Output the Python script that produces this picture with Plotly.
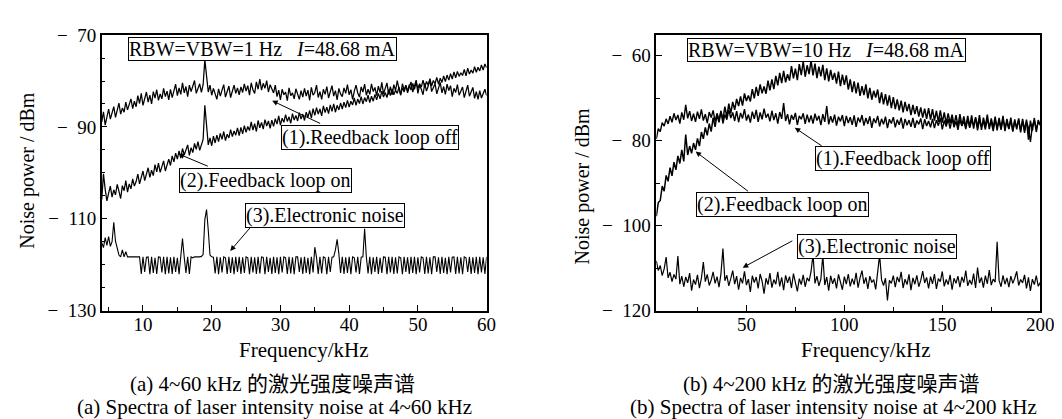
import numpy as np
import plotly.graph_objects as go

# ---------------- data: panel (a) 4~60 kHz (0.25 kHz grid) ----------------
freq_a = np.arange(4.0, 60.001, 0.25)

off_a = [
    -88.9, -86.7, -89.6, -87.4, -86.1, -88.3, -87.0, -85.6, -87.9, -86.4, -84.8, -87.2, -85.9, -86.8, -84.6, -86.3, -85.1, -83.9, -86.0, -84.4,
    -85.6, -83.2, -84.9, -82.7, -85.3, -83.8, -82.4, -84.6, -83.1, -85.0, -82.3, -83.7, -81.9, -84.2, -82.8, -83.9, -81.6, -83.4, -82.2, -84.1,
    -81.8, -83.6, -82.1, -80.7, -83.2, -81.5, -82.9, -80.4, -82.6, -81.2, -83.4, -80.9, -82.3, -81.0, -79.9, -82.7, -81.4, -80.6, -82.5, -80.8,
    -75.4, -78.6, -82.4, -80.9, -83.1, -81.6, -82.8, -84.0, -81.7, -83.3, -82.0, -80.8, -83.5, -82.2, -81.1, -83.6, -82.4, -80.9, -82.7, -81.5,
    -83.0, -81.3, -82.5, -80.6, -82.2, -81.0, -83.1, -80.4, -81.9, -82.7, -80.2, -81.8, -79.6, -82.0, -80.5, -81.6, -79.9, -82.4, -80.8, -81.7,
    -82.6, -80.9, -83.4, -82.0, -84.1, -81.8, -83.0, -82.4, -84.3, -81.5, -83.2, -82.6, -83.9, -81.7, -82.8, -84.0, -82.1, -83.5, -81.6, -83.3,
    -82.0, -84.2, -81.4, -83.1, -82.5, -80.9, -83.6, -82.3, -84.0, -81.8, -82.9, -81.2, -83.7, -82.4, -81.0, -83.3, -82.1, -84.1, -81.6, -82.8,
    -83.4, -81.5, -82.7, -80.8, -83.0, -81.9, -84.0, -82.2, -80.9, -82.6, -83.5, -81.3, -82.4, -80.7, -83.1, -81.8, -82.9, -80.6, -82.3, -81.4,
    -83.2, -81.1, -82.5, -80.3, -82.8, -81.6, -80.4, -82.9, -81.2, -83.0, -80.8, -82.1, -79.9, -81.7, -83.1, -80.6, -82.0, -80.9, -82.6, -81.3,
    -80.2, -82.4, -81.0, -79.8, -82.7, -80.9, -81.8, -83.0, -80.5, -82.2, -81.1, -79.7, -82.3, -81.4, -80.6, -82.8, -81.5, -80.3, -82.6, -81.2,
    -82.9, -80.7, -82.1, -81.0, -83.4, -81.6, -82.5, -80.8, -83.1, -82.0, -81.3, -83.6, -82.2, -80.9, -83.3, -82.5, -81.4, -83.8, -82.3, -84.0,
    -82.1, -83.7, -82.6, -81.8, -83.2,
]

on_a = [
    -105.8, -100.2, -103.6, -106.1, -104.4, -102.9, -105.3, -103.7, -104.8, -102.5, -104.0, -105.6, -102.8, -103.9, -101.7, -104.2, -102.4, -103.5, -101.3, -102.9,
    -101.9, -100.3, -102.4, -100.8, -99.6, -101.7, -100.1, -98.9, -101.0, -99.4, -100.6, -98.2, -99.8, -97.9, -99.9, -98.5, -97.4, -99.6, -98.1, -97.0,
    -98.4, -96.3, -97.6, -95.7, -97.0, -95.2, -96.8, -94.7, -96.1, -95.0, -93.9, -96.2, -94.5, -95.6, -93.6, -94.9, -93.2, -95.1, -93.8, -92.7,
    -85.3, -89.2, -93.9, -92.4, -94.1, -92.0, -93.5, -91.8, -93.2, -91.4, -92.7, -91.0, -93.0, -91.6, -92.4, -90.6, -92.1, -90.9, -91.8, -90.2,
    -91.9, -90.1, -91.5, -89.7, -91.2, -89.9, -90.8, -88.9, -90.7, -89.3, -91.0, -88.6, -90.2, -89.0, -90.5, -88.4, -89.8, -88.7, -90.3, -88.5,
    -89.9, -88.2, -89.4, -87.6, -89.6, -88.1, -89.0, -87.3, -88.8, -87.8, -89.2, -87.1, -88.5, -87.5, -88.7, -86.9, -88.3, -87.2, -88.6, -86.8,
    -87.9, -86.4, -88.1, -86.0, -87.5, -85.8, -87.2, -86.1, -87.6, -85.4, -86.9, -85.7, -87.1, -85.2, -86.6, -85.0, -86.8, -85.3, -86.3, -84.8,
    -86.1, -84.6, -85.8, -84.2, -85.7, -84.4, -85.2, -83.7, -85.3, -83.9, -84.9, -83.4, -85.0, -83.6, -84.5, -83.1, -84.7, -83.3, -84.4, -82.9,
    -84.1, -82.7, -83.9, -82.2, -83.5, -82.5, -83.6, -81.9, -83.2, -81.7, -83.0, -82.0, -82.7, -81.3, -82.9, -81.5, -82.4, -81.0, -82.2, -80.8,
    -82.0, -80.5, -81.8, -80.2, -81.6, -80.6, -81.3, -79.8, -81.4, -80.1, -80.9, -79.5, -81.1, -79.9, -80.6, -79.2, -80.7, -79.4, -80.3, -78.9,
    -80.1, -78.7, -79.8, -78.4, -79.6, -78.0, -79.3, -77.9, -79.0, -78.2, -78.8, -77.5, -78.9, -77.2, -78.5, -77.6, -78.3, -76.9, -78.1, -77.0,
    -77.8, -76.5, -77.6, -76.3, -77.1,
]

elec_a = [
    -115.2, -116.3, -114.1, -115.8, -113.9, -116.0, -115.0, -110.8, -114.9, -116.2, -117.9, -118.3, -116.8, -118.3, -117.2, -118.3, -118.3, -118.4, -118.3, -118.3,
    -118.3, -118.4, -118.3, -122.0, -118.3, -121.6, -118.4, -118.3, -122.1, -118.3, -121.8, -118.5, -122.0, -118.3, -118.4, -121.7, -118.3, -122.1, -118.3, -121.9,
    -118.4, -122.0, -118.3, -121.6, -118.5, -122.1, -118.3, -114.3, -118.4, -121.8, -118.3, -122.0, -118.3, -118.5, -118.3, -118.3, -118.4, -118.3, -118.2, -117.8,
    -110.2, -108.0, -112.5, -117.9, -118.3, -118.4, -121.9, -118.3, -122.1, -118.4, -121.7, -118.3, -118.5, -122.0, -118.3, -121.8, -118.4, -122.1, -118.3, -121.6,
    -118.3, -122.0, -118.4, -121.8, -118.3, -118.5, -122.1, -118.3, -121.7, -118.4, -122.0, -118.3, -121.9, -118.3, -118.4, -122.1, -118.3, -121.6, -118.5, -122.0,
    -118.3, -121.8, -118.4, -122.1, -118.3, -121.7, -118.3, -118.5, -122.0, -118.3, -121.9, -118.4, -122.1, -118.3, -118.3, -121.6, -118.4, -122.0, -118.3, -121.8,
    -118.5, -122.1, -118.3, -121.7, -116.2, -118.4, -122.0, -118.3, -121.9, -118.3, -118.5, -122.1, -118.3, -121.6, -118.4, -118.3, -116.8, -114.5, -117.6, -121.8,
    -118.3, -122.0, -118.4, -121.8, -118.3, -122.1, -118.3, -118.5, -121.7, -118.3, -122.0, -118.4, -118.3, -112.2, -118.3, -121.9, -118.3, -122.1, -118.4, -121.6,
    -118.3, -122.0, -118.5, -121.8, -118.3, -118.4, -122.1, -118.3, -121.7, -118.3, -122.0, -118.4, -121.9, -118.3, -118.5, -122.1, -118.3, -121.6, -118.4, -122.0,
    -118.3, -121.8, -118.3, -122.1, -118.4, -121.7, -118.3, -118.5, -122.0, -118.3, -121.9, -118.4, -122.1, -118.3, -118.3, -121.6, -118.4, -122.0, -118.3, -121.8,
    -118.5, -122.1, -118.3, -121.7, -118.4, -118.3, -122.0, -118.3, -121.9, -118.4, -122.1, -118.3, -118.5, -121.6, -118.3, -122.0, -118.4, -121.8, -118.3, -122.1,
    -118.3, -121.7, -118.4, -122.0, -118.3,
]

# ---------------- data: panel (b) 4~200 kHz (1 kHz grid) ----------------
freq_b = np.arange(4.0, 200.001, 1.0)

off_b = [
    -79.6, -77.2, -77.9, -75.8, -76.6, -74.9, -76.1, -74.3, -75.7, -73.6, -75.2, -74.0, -76.0, -73.4, -75.1, -71.6, -74.8, -73.1, -75.4, -73.7,
    -75.6, -73.2, -74.9, -72.7, -75.3, -73.8, -75.9, -73.3, -74.6, -72.9, -75.5, -73.6, -75.2, -73.0, -76.0, -73.9, -75.1, -72.8, -74.7, -73.4,
    -75.4, -73.1, -75.7, -73.5, -74.8, -72.6, -75.3, -73.9, -75.8, -73.2, -74.9, -72.8, -75.6, -73.4, -75.0, -72.5, -74.6, -73.7, -75.5, -73.0,
    -75.2, -73.6, -76.0, -73.3, -74.9, -71.2, -75.4, -73.8, -76.2, -74.0, -75.1, -73.5, -76.3, -74.2, -75.0, -73.6, -76.1, -73.9, -75.7, -74.1,
    -76.0, -73.7, -75.3, -74.2, -76.4, -73.8, -75.6, -71.9, -76.2, -74.3, -75.8, -73.9, -76.5, -74.4, -75.5, -74.0, -76.6, -74.2, -75.9, -74.5,
    -76.3, -74.1, -76.8, -74.6, -75.7, -74.0, -76.5, -74.7, -76.1, -74.3, -77.0, -74.8, -75.9, -74.2, -76.7, -74.9, -76.2, -74.4, -77.1, -75.0,
    -76.0, -74.5, -76.9, -75.1, -76.3, -74.6, -77.2, -74.9, -76.4, -75.2, -76.8, -74.7, -77.0, -75.3, -76.2, -74.8, -77.3, -75.0, -76.6, -75.4,
    -76.9, -74.9, -77.1, -75.2, -76.5, -74.7, -77.4, -75.3, -76.7, -75.0, -77.2, -74.8, -76.9, -75.5, -77.5, -75.1, -76.6, -75.4, -77.3, -74.9,
    -77.0, -75.3, -76.4, -74.8, -77.6, -75.2, -76.8, -75.5, -77.4, -74.9, -76.7, -75.6, -77.8, -75.1, -76.9, -75.4, -77.5, -75.0, -76.8, -75.7,
    -77.3, -75.2, -77.7, -75.5, -76.9, -75.1, -77.6, -75.4, -78.2, -75.6, -77.0, -80.3, -76.5, -75.3, -77.4, -75.6, -76.2,
]

on_b = [
    -97.8, -94.6, -94.1, -90.7, -91.9, -88.2, -89.6, -86.4, -88.3, -85.1, -86.9, -83.6, -85.4, -82.2, -84.9, -78.6, -83.4, -81.3, -83.0, -80.6,
    -82.2, -79.5, -81.3, -78.0, -79.6, -76.9, -78.8, -76.0, -77.9, -74.6, -76.8, -73.9, -75.7, -73.2, -75.1, -72.0, -74.5, -71.3, -73.6, -70.9,
    -72.8, -70.2, -71.9, -69.6, -71.8, -68.9, -70.7, -69.4, -70.8, -67.9, -70.1, -67.4, -69.5, -66.8, -68.9, -67.3, -69.0, -65.9, -68.2, -65.6,
    -67.9, -64.8, -67.0, -64.1, -66.5, -63.6, -66.3, -64.4, -65.9, -62.5, -65.4, -63.1, -65.8, -62.0, -64.6, -61.4, -65.0, -62.3, -64.4, -61.1,
    -64.7, -61.9, -65.3, -62.6, -64.9, -62.2, -65.8, -63.0, -66.1, -63.4, -65.7, -64.1, -66.6, -63.8, -67.2, -64.5, -66.9, -64.7, -68.0, -65.6,
    -68.6, -66.1, -68.9, -66.4, -69.5, -67.2, -69.3, -66.8, -70.1, -67.6, -70.4, -68.3, -69.9, -68.0, -71.2, -68.7, -71.5, -69.1, -71.8, -69.4,
    -72.4, -69.8, -72.6, -70.3, -72.9, -70.6, -73.4, -70.9, -73.1, -71.4, -74.0, -71.6, -73.8, -71.9, -74.4, -72.2, -74.6, -72.5, -74.9, -72.4,
    -75.1, -72.6, -75.3, -73.0, -75.6, -72.9, -75.8, -73.4, -76.0, -73.6, -75.9, -73.9, -76.4, -74.0, -76.6, -73.8, -76.5, -74.3, -76.9, -74.2,
    -76.8, -74.1, -77.2, -74.5, -76.9, -74.0, -77.5, -74.6, -76.7, -73.9, -77.3, -74.8, -77.0, -74.4, -77.6, -74.7, -77.1, -74.2, -77.8, -74.9,
    -77.2, -74.6, -77.9, -75.0, -77.4, -74.8, -78.1, -74.9, -77.6, -75.1, -79.8, -75.3, -77.7, -74.7, -78.0, -75.2, -76.4,
]

elec_b = [
    -108.3, -110.6, -109.4, -111.8, -110.2, -107.4, -112.3, -111.0, -113.2, -111.5, -112.6, -107.2, -113.8, -111.9, -114.4, -112.1, -113.5, -111.2, -115.3, -112.7,
    -113.9, -111.6, -114.7, -112.4, -108.6, -113.2, -111.5, -114.1, -112.8, -110.9, -113.6, -112.0, -114.5, -111.3, -105.4, -113.0, -111.7, -114.2, -112.5, -110.6,
    -113.8, -111.9, -115.1, -112.3, -113.6, -110.8, -114.0, -112.6, -115.6, -111.8, -113.4, -112.1, -114.8, -111.4, -113.1, -116.0, -112.4, -113.9, -111.2, -114.6,
    -112.7, -113.8, -110.9, -114.3, -112.2, -115.2, -111.7, -113.5, -112.0, -114.7, -111.3, -113.2, -115.5, -112.5, -113.9, -111.6, -114.4, -112.3, -113.1, -110.8,
    -106.8, -113.6, -111.9, -114.2, -112.6, -107.0, -114.0, -112.1, -115.3, -111.8, -113.7, -112.4, -114.8, -111.5, -113.3, -115.1, -112.0, -113.8, -111.4, -114.3,
    -112.5, -113.9, -111.1, -114.6, -112.3, -110.6, -113.7, -112.2, -114.9, -111.9, -113.4, -112.7, -115.0, -111.6, -106.9, -112.8, -114.1, -112.4, -117.6, -112.9,
    -113.6, -111.8, -114.5, -112.1, -113.3, -110.9, -114.7, -112.6, -113.9, -111.5, -115.2, -112.3, -113.8, -111.7, -114.4, -112.9, -110.7, -113.5, -112.2, -114.8,
    -112.0, -113.7, -111.4, -114.9, -112.5, -113.2, -110.8, -114.3, -112.7, -113.9, -111.6, -115.1, -112.4, -113.6, -111.9, -114.5, -112.1, -113.4, -110.6, -114.2,
    -112.8, -113.9, -111.3, -114.7, -109.9, -113.5, -112.2, -114.6, -111.8, -113.7, -110.5, -114.0, -112.6, -113.3, -103.8, -112.9, -114.4, -111.7, -113.8, -112.3,
    -114.5, -111.9, -113.6, -112.4, -110.8, -114.1, -112.7, -113.5, -111.6, -114.8, -112.2, -115.4, -112.6, -113.9, -111.8, -114.3, -113.4,
]

# ---------------- ticks / texts ----------------
xticks_a = [10, 20, 30, 40, 50, 60]
yticks_a = [-130, -110, -90, -70]
yticktext_a = ["\u2212\u2002130", "\u2212\u2002110", "\u2212\u200290", "\u2212\u200270"]
xticks_b = [50, 100, 150, 200]
yticks_b = [-120, -100, -80, -60]
yticktext_b = ["\u2212\u2002120", "\u2212\u2002100", "\u2212\u200280", "\u2212\u200260"]

SERIF = "Liberation Serif, Times New Roman, serif"
MIXED = "Liberation Serif, Noto Sans CJK SC, serif"

fig = go.Figure()


def add_series(x, y, xa, ya, width):
    fig.add_trace(go.Scatter(x=x[:len(y)], y=y, mode="lines",
                             line=dict(color="black", width=width),
                             xaxis=xa, yaxis=ya, showlegend=False, hoverinfo="skip"))


add_series(freq_a, off_a, "x", "y", 1.25)
add_series(freq_a, on_a, "x", "y", 1.25)
add_series(freq_a, elec_a, "x", "y", 1.1)
add_series(freq_b, off_b, "x2", "y2", 1.4)
add_series(freq_b, on_b, "x2", "y2", 1.5)
add_series(freq_b, elec_b, "x2", "y2", 1.2)

W, H = 1062, 419
ydom = [1 - 308 / H, 1 - 18 / H]

axis_common = dict(showline=True, linecolor="black", linewidth=1.5, mirror=True,
                   ticks="inside", ticklen=6, tickwidth=1.2, tickcolor="black",
                   showgrid=False, zeroline=False,
                   tickfont=dict(family=SERIF, size=19, color="black"))

fig.update_layout(
    width=W, height=H, margin=dict(l=0, r=0, t=0, b=0),
    paper_bgcolor="white", plot_bgcolor="white",
    xaxis=dict(domain=[95 / W, 485 / W], range=[4, 60], anchor="y",
               tickvals=xticks_a, ticklabelstandoff=-4,
               minor=dict(dtick=5, tick0=0, ticks="inside", ticklen=4, tickcolor="black"),
               **axis_common),
    yaxis=dict(domain=ydom, range=[-130, -70], anchor="x",
               tickvals=yticks_a, ticktext=yticktext_a,
               minor=dict(dtick=5, tick0=0, ticks="inside", ticklen=4, tickcolor="black"),
               **axis_common),
    xaxis2=dict(domain=[657 / W, 1046 / W], range=[4, 200], anchor="y2",
                tickvals=xticks_b, ticklabelstandoff=-4,
                minor=dict(dtick=25, tick0=0, ticks="inside", ticklen=4, tickcolor="black"),
                **axis_common),
    yaxis2=dict(domain=ydom, range=[-120, -55.2], anchor="x2",
                tickvals=yticks_b, ticktext=yticktext_b,
                minor=dict(dtick=10, tick0=0, ticks="inside", ticklen=4, tickcolor="black"),
                **axis_common),
)

box_font = dict(family=SERIF, size=20, color="black")
sp = "\u00a0\u00a0\u00a0"


def box(text, x, y, xr, yr):
    fig.add_annotation(text=text, x=x, y=y, xref=xr, yref=yr, showarrow=False,
                       font=box_font, bordercolor="black", borderwidth=1,
                       borderpad=0, bgcolor="white", xanchor="center", yanchor="middle")


def arrow(x, y, ax, ay, xr, yr):
    fig.add_annotation(text="", x=x, y=y, ax=ax, ay=ay, xref=xr, yref=yr,
                       axref=xr, ayref=yr, showarrow=True, arrowhead=2,
                       arrowsize=1.1, arrowwidth=1, arrowcolor="black")


# panel (a) annotations
box("RBW=VBW=1 Hz" + sp + "<i>I</i>=48.68 mA", 27.4, -73.0, "x", "y")
box("(1).Reedback loop off", 43.1, -92.2, "x", "y")
box("(2).Feedback loop on", 27.8, -101.6, "x", "y")
box("(3).Electronic noise", 36.5, -109.4, "x", "y")
arrow(28.8, -84.3, 36.0, -89.4, "x", "y")
arrow(15.2, -95.9, 19.65, -98.7, "x", "y")
arrow(22.7, -117.0, 25.8, -111.6, "x", "y")

# panel (b) annotations
box("RBW=VBW=10 Hz" + sp + "<i>I</i>=48.68 mA", 91.0, -58.6, "x2", "y2")
box("(1).Feedback loop off", 130.1, -84.25, "x2", "y2")
box("(2).Feedback loop on", 68.4, -95.1, "x2", "y2")
box("(3).Electronic noise", 116.5, -105.0, "x2", "y2")
arrow(74.7, -77.0, 89.2, -81.5, "x2", "y2")
arrow(24.05, -82.6, 51.6, -92.2, "x2", "y2")
arrow(48.1, -109.9, 74.2, -103.4, "x2", "y2")


def ptext(text, px, py, size, angle=0, family=SERIF):
    fig.add_annotation(text=text, x=px / W, y=1 - py / H, xref="paper", yref="paper",
                       showarrow=False, textangle=angle,
                       font=dict(family=family, size=size, color="black"),
                       xanchor="center", yanchor="middle")


# axis titles
ptext("Noise power / dBm", 20, 160, 20, angle=-90)
ptext("Noise power / dBm", 582, 177, 20, angle=-90)
ptext("Frequency/kHz", 299, 350, 21)
ptext("Frequency/kHz", 869, 350, 21)

# captions
ptext("(a) 4~60 kHz 的激光强度噪声谱", 268, 385, 21, family=MIXED)
ptext("(a) Spectra of laser intensity noise at 4~60 kHz", 270, 409, 21)
ptext("(b) 4~200 kHz 的激光强度噪声谱", 834, 385, 21, family=MIXED)
ptext("(b) Spectra of laser intensity noise at 4~200 kHz", 837, 409, 21)

fig.write_html("out.html")
